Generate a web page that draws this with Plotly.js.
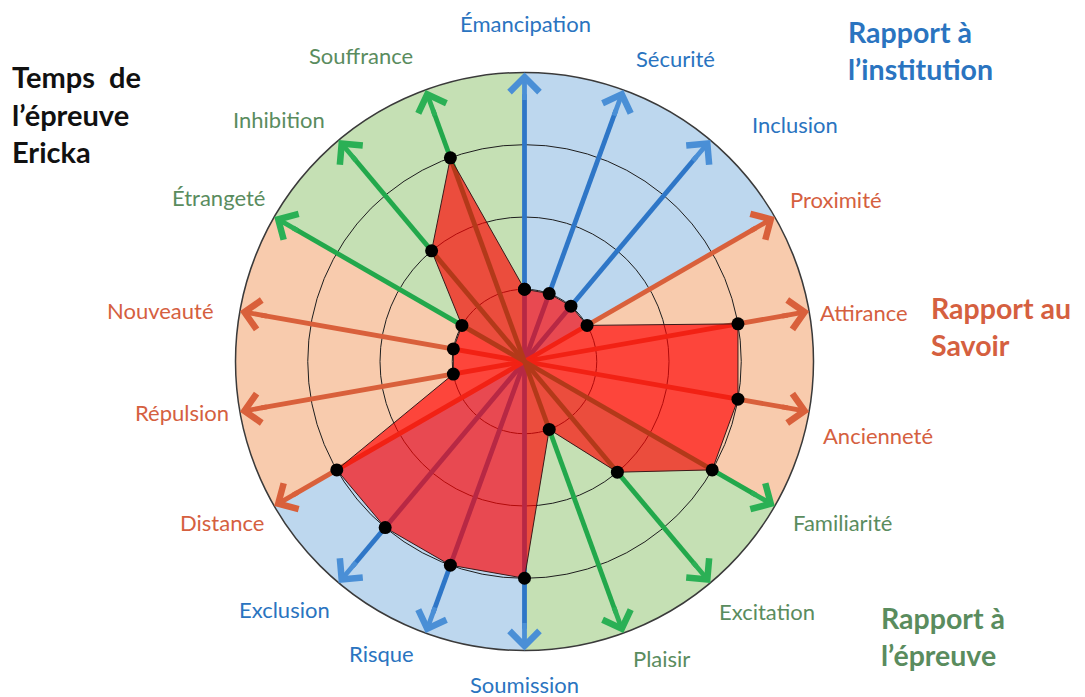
<!DOCTYPE html>
<html>
<head>
<meta charset="utf-8">
<script src="https://cdn.plot.ly/plotly-3.0.1.min.js"></script>
<style>
  html, body { margin: 0; padding: 0; background: #fff; }
  #chart { width: 1085px; height: 697px; }
</style>
</head>
<body>
<div id="chart"></div>
<script>
// axes, clockwise from the top
const axisLabels = ['Émancipation', 'Sécurité', 'Inclusion', 'Proximité', 'Attirance', 'Ancienneté',
  'Familiarité', 'Excitation', 'Plaisir', 'Soumission', 'Risque', 'Exclusion',
  'Distance', 'Répulsion', 'Nouveauté', 'Étrangeté', 'Inhibition', 'Souffrance'];
const scores = [1, 1, 1, 1, 3, 3, 3, 2, 1, 3, 3, 3, 3, 1, 1, 1, 2, 3];
// 0 = institution, 1 = savoir, 2 = épreuve
const axisGroup = [0, 0, 0, 1, 1, 1, 2, 2, 2, 0, 0, 0, 1, 1, 1, 2, 2, 2];
const groupTitles = ['Rapport à<br>l’institution', 'Rapport au<br>Savoir', 'Rapport à<br>l’épreuve'];
const chartTitle = 'Temps  de<br>l’épreuve<br>Ericka';
const scaleMax = 4;
const gridLevels = [1, 2, 3];

// colours
const groupFill = ['#bdd7ee', '#f8cbad', '#c5e0b4'];
const groupArrow = ['#2e76c7', '#d9603b', '#22a84b'];
const groupHead = ['#4a8fd6', '#d9603b', '#2bb055'];
const groupText = ['#2a74c0', '#d5603f', '#5a8c5e'];

// page geometry (px)
const W = 1085, H = 697;
const cx = 524.5, cy = 361.5, R = 289;
const dom = { x: [(cx - R) / W, (cx + R) / W], y: [1 - (cy + R) / H, 1 - (cy - R) / H] };

// hand placed label centres (px), same order as axisLabels
const labelPos = [[525, 24], [675, 58], [795, 124], [836, 199], [864, 312], [878, 435],
  [842, 522], [767, 611], [661, 658], [524, 684], [381, 653], [284, 609],
  [222, 522], [182, 412], [160, 310], [218, 197], [279, 120], [361, 56]];
const groupTitlePos = [[846, 50], [929, 326], [879, 636]];

const n = axisLabels.length;
const step = 360 / n;

// background sectors, 3 axes each
const sectorTheta = [], sectorR = [], sectorColor = [];
for (let k = 0; k < n / 3; k++) {
  sectorTheta.push(k * 3 * step + 1.5 * step);
  sectorR.push(scaleMax);
  sectorColor.push(groupFill[axisGroup[k * 3]]);
}

const traces = [{
  type: 'barpolar',
  subplot: 'polar',
  theta: sectorTheta,
  r: sectorR,
  width: 3 * step,
  marker: { color: sectorColor, line: { width: 0 } },
  hoverinfo: 'skip'
}];

// arrow shafts, one trace per group
for (let g = 0; g < 3; g++) {
  const r = [], th = [];
  axisLabels.forEach((lab, i) => {
    if (axisGroup[i] !== g) return;
    r.push(0, scaleMax - 0.3, null);
    th.push(lab, lab, lab);
  });
  traces.push({
    type: 'scatterpolar',
    subplot: 'polar2',
    mode: 'lines',
    r: r,
    theta: th,
    line: { color: groupArrow[g], width: 4.8 },
    hoverinfo: 'skip'
  });
}

// the profile
traces.push({
  type: 'scatterpolar',
  subplot: 'polar2',
  mode: 'lines+markers',
  r: scores.concat([scores[0]]),
  theta: axisLabels.concat([axisLabels[0]]),
  fill: 'toself',
  fillcolor: 'rgba(255,0,0,0.66)',
  line: { color: '#3a1a1a', width: 1 },
  marker: { color: '#000', size: 13 }
});

// empty trace so the overlay axes exist
traces.push({ type: 'scatter', x: [], y: [], xaxis: 'x', yaxis: 'y', hoverinfo: 'skip' });

const annotations = [];

// arrow heads on the overlay axes
axisLabels.forEach((lab, i) => {
  const a = i * step * Math.PI / 180;
  annotations.push({
    xref: 'x', yref: 'y', axref: 'x', ayref: 'y',
    x: scaleMax * Math.sin(a), y: scaleMax * Math.cos(a),
    ax: (scaleMax - 0.4) * Math.sin(a), ay: (scaleMax - 0.4) * Math.cos(a),
    text: '', showarrow: true, arrowhead: 4, arrowsize: 1.2, arrowwidth: 4.8,
    arrowcolor: groupHead[axisGroup[i]], standoff: 0
  });
});

// axis labels
axisLabels.forEach((lab, i) => {
  annotations.push({
    xref: 'paper', yref: 'paper',
    x: labelPos[i][0] / W, y: 1 - labelPos[i][1] / H,
    xanchor: 'center', yanchor: 'middle',
    text: lab, showarrow: false,
    font: { family: 'Lato, sans-serif', size: 22, color: groupText[axisGroup[i]] }
  });
});

// group titles
groupTitles.forEach((t, g) => {
  annotations.push({
    xref: 'paper', yref: 'paper',
    x: groupTitlePos[g][0] / W, y: 1 - groupTitlePos[g][1] / H,
    xanchor: 'left', yanchor: 'middle', align: 'left',
    text: t, showarrow: false,
    font: { family: 'Lato, sans-serif', size: 28.5, weight: 'bold', color: groupText[g] }
  });
});

annotations.push({
  xref: 'paper', yref: 'paper',
  x: 10 / W, y: 1 - 114 / H,
  xanchor: 'left', yanchor: 'middle', align: 'left',
  text: chartTitle, showarrow: false,
  font: { family: 'Lato, sans-serif', size: 29, weight: 'bold', color: '#111' }
});

const hiddenRadial = { range: [0, scaleMax], visible: false };

const layout = {
  width: W,
  height: H,
  margin: { l: 0, r: 0, t: 0, b: 0, pad: 0 },
  paper_bgcolor: '#fff',
  plot_bgcolor: 'rgba(0,0,0,0)',
  showlegend: false,
  polar: {
    domain: dom,
    bgcolor: 'rgba(0,0,0,0)',
    bargap: 0,
    angularaxis: { rotation: 90, direction: 'clockwise', visible: false },
    radialaxis: hiddenRadial
  },
  polar2: {
    domain: dom,
    bgcolor: 'rgba(0,0,0,0)',
    angularaxis: {
      type: 'category',
      categoryorder: 'array',
      categoryarray: axisLabels,
      rotation: 90,
      direction: 'clockwise',
      showticklabels: false,
      ticks: '',
      showgrid: false,
      showline: true,
      linecolor: '#3a3a3a',
      linewidth: 1.5
    },
    radialaxis: {
      range: [0, scaleMax],
      tickvals: gridLevels,
      showticklabels: false,
      ticks: '',
      showline: false,
      gridcolor: '#1e1e1e',
      gridwidth: 1
    }
  },
  xaxis: { domain: dom.x, range: [-scaleMax, scaleMax], visible: false, fixedrange: true },
  yaxis: { domain: dom.y, range: [-scaleMax, scaleMax], visible: false, fixedrange: true },
  annotations: annotations
};

Plotly.newPlot('chart', traces, layout, { displayModeBar: false, staticPlot: true });
</script>
</body>
</html>
